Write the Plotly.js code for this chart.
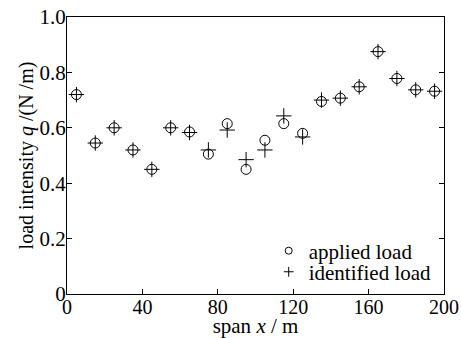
<!DOCTYPE html>
<html><head><meta charset="utf-8">
<script src="https://cdn.plot.ly/plotly-3.0.1.min.js"></script>
<style>body{margin:0;padding:0;background:#fff}#c{width:461px;height:338px}</style>
</head><body><div id="c"></div>
<script>
var span = [5,15,25,35,45,55,65,75,85,95,105,115,125,135,145,155,165,175,185,195];
var appliedLoad = [0.72,0.545,0.60,0.52,0.45,0.60,0.585,0.505,0.615,0.45,0.555,0.615,0.58,0.695,0.707,0.748,0.875,0.778,0.737,0.732];
var identifiedLoad = [0.72,0.545,0.60,0.52,0.45,0.60,0.583,0.52,0.592,0.485,0.52,0.643,0.567,0.70,0.707,0.748,0.875,0.778,0.737,0.732];
var seriesNames = ["applied load", "identified load"];
var xTicks = [0,40,80,120,160,200];
var yTicks = [0,0.2,0.4,0.6,0.8,1.0];
var yTickText = ["0","0.2","0.4","0.6","0.8","1.0"];

var fam = "Liberation Serif, Times New Roman, serif";
var font = {family:fam, color:"#000", size:21};
var traces = [
 {x:span, y:appliedLoad, name:seriesNames[0], type:"scatter", mode:"markers", showlegend:false,
  marker:{symbol:"circle-open", size:10, color:"#000", line:{width:1, color:"#000"}}},
 {x:span, y:identifiedLoad, name:seriesNames[1], type:"scatter", mode:"markers", showlegend:false,
  marker:{symbol:"cross-thin-open", size:11, color:"#000", line:{width:1, color:"#000"}}},
 // legend keys (no data points)
 {x:[null], y:[null], name:seriesNames[0], type:"scatter", mode:"markers", legend:"legend",
  marker:{symbol:"circle-open", size:7, color:"#000", line:{width:1, color:"#000"}}},
 {x:[null], y:[null], name:seriesNames[1], type:"scatter", mode:"markers", legend:"legend2",
  marker:{symbol:"cross-thin-open", size:7, color:"#000", line:{width:1, color:"#000"}}}
];
var legBase = {xref:"paper", yref:"paper", xanchor:"left", yanchor:"middle", bgcolor:"rgba(0,0,0,0)",
   font:{family:fam, size:21, color:"#000"}, itemwidth:30, borderwidth:0};
var layout = {
 width:461, height:338,
 margin:{l:67, r:17, t:17, b:44, pad:0},
 paper_bgcolor:"#fff", plot_bgcolor:"#fff",
 font:font, showlegend:true,
 legend:Object.assign({}, legBase, {x:0.535, y:0.155}),
 legend2:Object.assign({}, legBase, {x:0.535, y:0.079}),
 xaxis:{range:[0,200], tickvals:xTicks, ticks:"inside", ticklen:5, tickcolor:"#000",
   showline:true, linecolor:"#000", linewidth:1, mirror:true, showgrid:false, zeroline:false,
   ticklabelstandoff:-5,
   tickfont:{size:20}, title:{text:"span <i>x</i> / m", font:{size:21}, standoff:3}},
 yaxis:{range:[0,1.0], tickvals:yTicks, ticktext:yTickText, ticks:"inside", ticklen:5, tickcolor:"#000",
   showline:true, linecolor:"#000", linewidth:1, mirror:"ticks", showgrid:false, zeroline:false,
   ticklabelstandoff:-4,
   tickfont:{size:21}, title:{text:"load intensity <i>q</i> /(N /m)", font:{size:20}, standoff:0}}
};
Plotly.newPlot("c", traces, layout, {displayModeBar:false, staticPlot:true});
</script></body></html>
